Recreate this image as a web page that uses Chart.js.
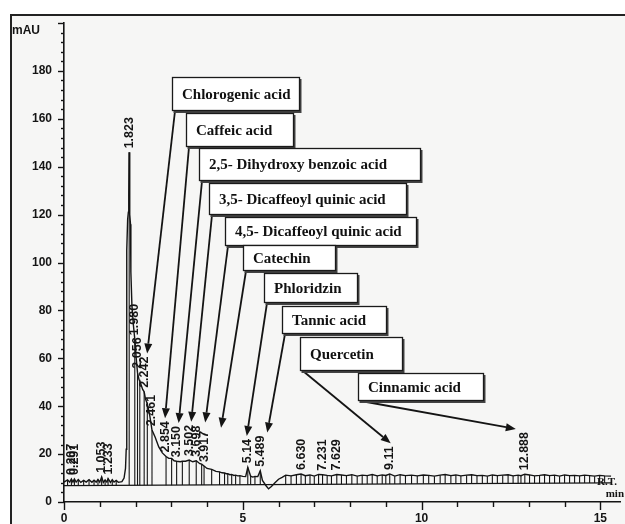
<!DOCTYPE html>
<html>
<head>
<meta charset="utf-8">
<script src="https://cdn.jsdelivr.net/npm/chart.js@4.4.1/dist/chart.umd.min.js"></script>
<style>
  html, body { margin: 0; padding: 0; background: #ffffff; }
  #wrap { width: 625px; height: 524px; position: relative; }
  canvas { display: block; }
</style>
</head>
<body>
<div id="wrap"><canvas id="chrom" width="625" height="524"></canvas></div>
<script>
// ---- HPLC trace (retention time in min, absorbance in mAU) ----
const traceTimes = [
  0, 0.16, 0.25, 0.34, 0.47, 0.62, 0.78, 0.90, 1.00, 1.10,
  1.20, 1.30, 1.40, 1.52, 1.62, 1.68, 1.72, 1.74, 1.75, 1.76,
  1.78, 1.80, 1.812, 1.832, 1.845, 1.86, 1.87, 1.90, 1.94, 2.02,
  2.10, 2.20, 2.28, 2.40, 2.55, 2.65, 2.75, 2.93, 3.08, 3.25,
  3.40, 3.60, 3.80, 4.00, 4.25, 4.42, 4.54, 4.64, 4.75, 4.86,
  5.00, 5.08, 5.28, 5.42, 5.55, 5.64, 5.72, 5.80, 5.90, 6.00,
  6.10, 15.30
];
const traceValues = [
  8.3, 8.3, 8.3, 8.3, 8.2, 8.3, 8.2, 8.3, 8.3, 8.2,
  8.3, 8.2, 8.3, 8.2, 8.5, 10, 14, 22, 50, 105,
  118, 121, 128, 124, 120, 116, 96, 82, 74, 60,
  51, 47, 43, 36, 27, 23, 20.5, 18.2, 17.2, 16.8,
  17, 16.8, 16, 14, 12.8, 12.2, 11.8, 11.4, 11.1, 10.9,
  10.7, 10.6, 10.4, 10.6, 9, 7, 5.5, 6.5, 8, 9.5,
  10.3, 10.8
];

// integrated peaks with their retention-time labels
const peakTimes = [0.207, 0.291, 1.053, 1.233, 1.823, 1.980, 2.056, 2.242, 2.461, 2.854,
                   3.150, 3.502, 3.698, 3.917, 5.14, 5.489, 6.630, 7.231, 7.629, 9.11, 12.888];
const peakHeights = [9.6, 9.6, 10.5, 9.8, 146, 68, 54, 46, 30, 19,
                     17, 17.5, 17.2, 15, 14.5, 13, 11.7, 11.4, 11.5, 11.7, 11.6];
const peakLabels = ['0.207', '0.291', '1.053', '1.233', '1.823', '1.980', '2.056', '2.242', '2.461', '2.854',
                    '3.150', '3.502', '3.698', '3.917', '5.14', '5.489', '6.630', '7.231', '7.629', '9.11', '12.888'];

// small unlabeled integration marks
const minorTimes = [
  0.10, 0.40, 0.55, 0.70, 0.84, 0.95, 1.15, 1.35, 1.46,
  2.12, 2.33, 3.01, 3.31, 3.85, 4.13, 4.35, 4.49, 4.58, 4.69, 4.80, 4.92, 5.22, 5.34,
  6.20, 6.35, 6.50, 6.75, 6.88, 7.00, 7.12, 7.36, 7.48, 7.76,
  7.90, 8.05, 8.20, 8.34, 8.48, 8.62, 8.76, 8.90, 9.00, 9.25,
  9.40, 9.55, 9.72, 9.88, 10.05, 10.20, 10.36, 10.52, 10.66, 10.82,
  10.96, 11.10, 11.26, 11.40, 11.55, 11.70, 11.84, 11.98, 12.12, 12.27,
  12.42, 12.56, 12.70, 12.78, 13.02, 13.16, 13.30, 13.44, 13.58, 13.72,
  13.86, 14.00, 14.14, 14.28, 14.42, 14.56, 14.70, 14.84, 14.98, 15.12
];
const minorHeights = [
  9.2, 9.4, 9.0, 9.3, 9.1, 9.4, 9.2, 9.3, 9.0,
  50.5, 41, 18.2, 17, 15.8, 13.6, 12.6, 12.1, 11.8, 11.5, 11.2, 11.0, 10.8, 10.7,
  11.2, 10.9, 11.4, 11.0, 11.3, 10.8, 11.5, 11.1, 10.9, 11.3,
  11.0, 11.4, 10.8, 11.2, 11.0, 11.5, 10.9, 11.3, 11.1, 10.8,
  11.4, 11.0, 11.2, 10.9, 11.3, 11.1, 10.8, 11.2, 11.5, 11.0,
  11.3, 10.9, 11.2, 11.4, 11.0, 11.1, 10.8, 11.3, 11.0, 11.2,
  11.4, 10.9, 11.2, 11.0, 11.3, 10.9, 11.1, 11.4, 11.0, 11.2,
  10.8, 11.3, 11.0, 11.1, 10.9, 11.2, 11.0, 10.8, 11.1, 10.9
];

// integration baseline (start / end)
const baselineTimes = [0, 15.3];
const baselineValues = [6.8, 8.0];

// axis ticks
const xTickLabels = [0, 5, 10, 15];
const yTickLabels = [0, 20, 40, 60, 80, 100, 120, 140, 160, 180];

// identified compounds and the peak each one points to
const compoundNames = ['Chlorogenic acid', 'Caffeic acid', '2,5- Dihydroxy benzoic acid',
  '3,5- Dicaffeoyl quinic acid', '4,5- Dicaffeoyl quinic acid', 'Catechin', 'Phloridzin',
  'Tannic acid', 'Quercetin', 'Cinnamic acid'];
const compoundPeaks = [2.242, 2.854, 3.150, 3.502, 3.698, 3.917, 5.14, 5.489, 9.11, 12.888];

// callout layout: box [left, top, width, height] in canvas px, and arrow-tip nudge
const calloutBoxes = [
  [172, 77, 128, 34], [186, 113, 108, 34], [199, 148, 222, 33], [209, 183, 198, 32],
  [225, 217, 192, 29], [243, 245, 93, 26], [264, 273, 94, 30], [282, 306, 105, 28],
  [300, 337, 103, 34], [358, 373, 126, 28]
];
const calloutTipNudge = [3, -1, 2, 2, 9, 17, -1, 7, 1, -9];

// ---- build datasets ----
function baseAt(t) {
  const f = (t - baselineTimes[0]) / (baselineTimes[1] - baselineTimes[0]);
  return baselineValues[0] + f * (baselineValues[1] - baselineValues[0]);
}

const signal = [];
traceTimes.forEach((t, i) => signal.push({ x: t, y: traceValues[i] }));
peakTimes.forEach((t, i) => signal.push({ x: t, y: peakHeights[i] }));
minorTimes.forEach((t, i) => signal.push({ x: t, y: minorHeights[i] }));
signal.sort((a, b) => a.x - b.x);

const markerSegs = [];
function addMarker(t, h) {
  markerSegs.push({ x: t, y: baseAt(t) }, { x: t, y: h }, { x: t, y: null });
}
peakTimes.forEach((t, i) => addMarker(t, peakHeights[i]));
minorTimes.forEach((t, i) => addMarker(t, minorHeights[i]));

const baseline = baselineTimes.map((t, i) => ({ x: t, y: baselineValues[i] }));

const INK = '#141414';
const SANS = '"Liberation Sans", Arial, sans-serif';
const SERIF = '"Liberation Serif", "Times New Roman", serif';
const LABEL_FONT = 'bold 12.5px ' + SANS;

// page frame and background
const framePlugin = {
  id: 'frame',
  beforeDraw(chart) {
    const ctx = chart.ctx;
    ctx.save();
    ctx.fillStyle = '#ffffff';
    ctx.fillRect(0, 0, chart.width, chart.height);
    ctx.fillStyle = '#f6f6f5';
    ctx.fillRect(10, 14, chart.width - 10, chart.height - 14);
    ctx.strokeStyle = '#222';
    ctx.lineWidth = 2;
    ctx.beginPath();
    ctx.moveTo(11, chart.height);
    ctx.lineTo(11, 15);
    ctx.lineTo(chart.width, 15);
    ctx.stroke();
    ctx.restore();
  }
};

// tick marks, peak labels, callouts and axis captions
const annotatePlugin = {
  id: 'annotate',
  afterDraw(chart) {
    const ctx = chart.ctx;
    const xs = chart.scales.x, ys = chart.scales.y;
    const area = chart.chartArea;
    ctx.save();
    ctx.strokeStyle = INK;
    ctx.lineWidth = 1.4;
    // y ticks: major every 20, minor every 4
    for (let v = 0; v <= 200; v += 4) {
      const py = Math.round(ys.getPixelForValue(v)) + 0.5;
      const len = v % 20 === 0 ? 6 : 3;
      ctx.beginPath();
      ctx.moveTo(area.left, py);
      ctx.lineTo(area.left - len, py);
      ctx.stroke();
    }
    // x ticks: major every 5 min, minor every minute
    for (let t = 0; t <= 15; t += 1) {
      const px = Math.round(xs.getPixelForValue(t)) + 0.5;
      const len = t % 5 === 0 ? 8 : 5;
      ctx.beginPath();
      ctx.moveTo(px, area.bottom);
      ctx.lineTo(px, area.bottom + len);
      ctx.stroke();
    }

    // retention-time labels, rotated upward from each apex
    ctx.font = LABEL_FONT;
    ctx.fillStyle = INK;
    const labelTop = [];
    peakTimes.forEach((t, i) => {
      const px = xs.getPixelForValue(t);
      const py = ys.getPixelForValue(peakHeights[i]) - 4;
      const w = ctx.measureText(peakLabels[i]).width;
      labelTop.push(py - w);
      ctx.save();
      ctx.translate(px, py);
      ctx.rotate(-Math.PI / 2);
      ctx.textAlign = 'left';
      ctx.textBaseline = 'middle';
      ctx.fillText(peakLabels[i], 0, 0);
      ctx.restore();
    });

    // arrows from each compound box to its peak
    ctx.strokeStyle = INK;
    ctx.fillStyle = INK;
    ctx.lineWidth = 1.8;
    compoundNames.forEach((name, i) => {
      const k = peakTimes.indexOf(compoundPeaks[i]);
      const b = calloutBoxes[i];
      const sx = b[0] + 3, sy = b[1] + b[3];
      const tx = xs.getPixelForValue(peakTimes[k]) + calloutTipNudge[i];
      const ty = labelTop[k] - 3;
      const ang = Math.atan2(ty - sy, tx - sx);
      const hl = 10, hw = 4;
      const bx = tx - hl * Math.cos(ang), by = ty - hl * Math.sin(ang);
      ctx.beginPath();
      ctx.moveTo(sx, sy);
      ctx.lineTo(bx, by);
      ctx.stroke();
      ctx.beginPath();
      ctx.moveTo(tx, ty);
      ctx.lineTo(bx + hw * Math.sin(ang), by - hw * Math.cos(ang));
      ctx.lineTo(bx - hw * Math.sin(ang), by + hw * Math.cos(ang));
      ctx.closePath();
      ctx.fill();
    });

    // compound boxes
    ctx.font = 'bold 15px ' + SERIF;
    ctx.textAlign = 'left';
    ctx.textBaseline = 'middle';
    compoundNames.forEach((name, i) => {
      const [x, y, w, h] = calloutBoxes[i];
      ctx.fillStyle = '#444';
      ctx.fillRect(x + 1.5, y + 2, w, h);
      ctx.fillStyle = '#ffffff';
      ctx.fillRect(x, y, w, h);
      ctx.strokeStyle = '#1a1a1a';
      ctx.lineWidth = 1.3;
      ctx.strokeRect(x + 0.5, y + 0.5, w - 1, h - 1);
      ctx.fillStyle = '#111';
      ctx.fillText(name, x + 10, y + h / 2 + 1);
    });

    // axis captions
    ctx.fillStyle = INK;
    ctx.font = 'bold 12px ' + SANS;
    ctx.textAlign = 'left';
    ctx.fillText('mAU', 12, 31);
    ctx.font = 'bold 11px ' + SERIF;
    ctx.textAlign = 'right';
    ctx.fillText('R.T.', area.right - 3, area.bottom - 20);
    ctx.fillText('min', area.right + 4, area.bottom - 8);
    ctx.restore();
  }
};

new Chart(document.getElementById('chrom'), {
  type: 'line',
  data: {
    datasets: [
      { label: 'baseline', data: baseline, borderColor: INK, borderWidth: 1.2, pointRadius: 0 },
      { label: 'peak marks', data: markerSegs, borderColor: INK, borderWidth: 1.1, pointRadius: 0, spanGaps: false },
      { label: 'signal', data: signal, borderColor: INK, borderWidth: 1.4, pointRadius: 0, tension: 0 }
    ]
  },
  options: {
    responsive: false,
    animation: false,
    devicePixelRatio: 1,
    layout: { padding: { top: 23, right: 5, left: 0, bottom: 0 } },
    plugins: { legend: { display: false }, tooltip: { enabled: false } },
    scales: {
      x: {
        type: 'linear', min: 0, max: 15.55,
        afterFit(s) { s.height = 22; },
        grid: { drawOnChartArea: false, drawTicks: false },
        border: { display: true, color: INK, width: 1.6 },
        ticks: {
          stepSize: 5, includeBounds: false, padding: 9,
          color: INK, font: { family: SANS, size: 12, weight: 'bold' },
          callback: v => xTickLabels.includes(v) ? String(v) : ''
        }
      },
      y: {
        type: 'linear', min: 0, max: 200,
        afterFit(s) { s.width = 64; },
        grid: { drawOnChartArea: false, drawTicks: false },
        border: { display: true, color: INK, width: 1.6 },
        ticks: {
          stepSize: 20, padding: 12,
          color: INK, font: { family: SANS, size: 12, weight: 'bold' },
          callback: v => yTickLabels.includes(v) ? String(v) : ''
        }
      }
    }
  },
  plugins: [framePlugin, annotatePlugin]
});
</script>
</body>
</html>
